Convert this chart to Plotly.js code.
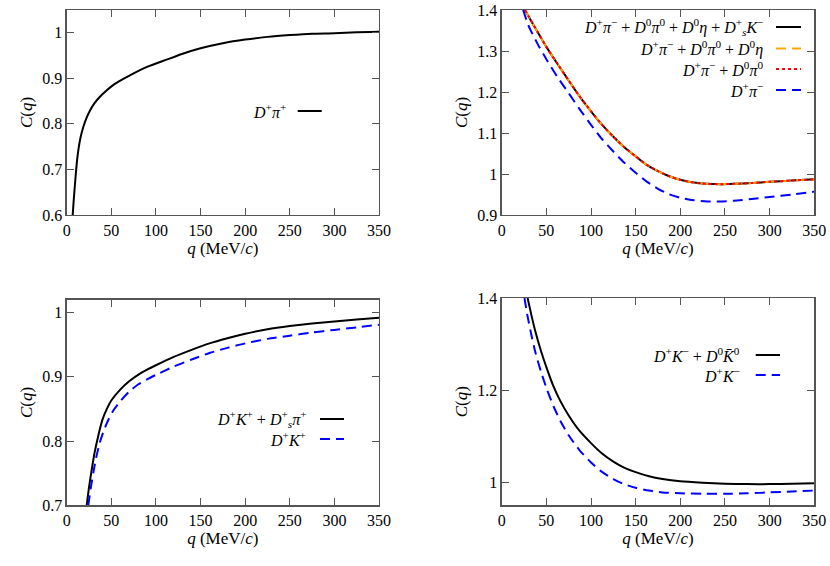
<!DOCTYPE html>
<html><head><meta charset="utf-8">
<script src="https://cdn.plot.ly/plotly-3.0.1.min.js"></script>
<style>html,body{margin:0;padding:0;background:#fff}#plot{width:830px;height:566px}</style>
</head><body><div id="plot"></div>
<script>
// Panel 1: D+ pi+
const q1 = [6.7, 8, 9.3, 11, 13, 15.5, 18.6, 22, 26, 31, 37, 44, 52, 62, 75, 90, 112, 130, 150, 175, 200, 225, 250, 275, 300, 325, 350];
const c1 = [0.600, 0.636, 0.668, 0.708, 0.742, 0.770, 0.793, 0.812, 0.829, 0.845, 0.859, 0.872, 0.885, 0.897, 0.911, 0.925, 0.941, 0.954, 0.966, 0.977, 0.985, 0.991, 0.995, 0.998, 0.999, 1.001, 1.002];

// Panel 2: D+ pi- coupled channels
const q2 = [26, 30, 40, 50, 62, 75, 87, 100, 112, 125, 137, 150, 162, 175, 187, 200, 215, 230, 245, 260, 280, 300, 325, 350];
const c2full = [1.400, 1.385, 1.347, 1.310, 1.270, 1.228, 1.190, 1.153, 1.121, 1.091, 1.066, 1.043, 1.023, 1.007, 0.995, 0.986, 0.979, 0.976, 0.975, 0.976, 0.978, 0.981, 0.984, 0.987];
const c2eta  = [1.400, 1.385, 1.347, 1.310, 1.270, 1.228, 1.190, 1.153, 1.121, 1.091, 1.066, 1.043, 1.023, 1.007, 0.995, 0.986, 0.979, 0.976, 0.975, 0.976, 0.978, 0.981, 0.984, 0.987];
const c2pi0  = [1.400, 1.385, 1.347, 1.310, 1.270, 1.228, 1.190, 1.153, 1.121, 1.091, 1.066, 1.043, 1.023, 1.007, 0.995, 0.986, 0.979, 0.976, 0.975, 0.976, 0.978, 0.981, 0.984, 0.987];
const q2b = [24, 30, 40, 50, 62, 75, 87, 100, 112, 125, 137, 150, 162, 175, 187, 200, 215, 230, 245, 260, 280, 300, 325, 350];
const c2single = [1.400, 1.362, 1.318, 1.280, 1.238, 1.197, 1.159, 1.120, 1.086, 1.055, 1.028, 1.003, 0.982, 0.964, 0.951, 0.942, 0.936, 0.933, 0.933, 0.935, 0.939, 0.944, 0.950, 0.957];

// Panel 3: D+ K+
const q3a = [22.4, 25, 28, 31, 35, 40, 45, 50, 60, 70, 80, 90, 100, 120, 140, 160, 180, 200, 225, 250, 275, 300, 325, 350];
const c3a = [0.700, 0.728, 0.755, 0.780, 0.806, 0.833, 0.850, 0.863, 0.880, 0.893, 0.903, 0.911, 0.918, 0.931, 0.942, 0.952, 0.960, 0.967, 0.974, 0.979, 0.983, 0.986, 0.989, 0.992];
const q3b = [24.2, 27, 30, 33, 37, 42, 47, 53, 60, 70, 80, 90, 100, 120, 140, 160, 180, 200, 225, 250, 275, 300, 325, 350];
const c3b = [0.700, 0.727, 0.752, 0.774, 0.797, 0.818, 0.834, 0.849, 0.862, 0.877, 0.888, 0.896, 0.903, 0.916, 0.927, 0.937, 0.945, 0.952, 0.959, 0.964, 0.969, 0.973, 0.977, 0.981];

// Panel 4: D+ K-
const q4a = [29, 33, 38, 44, 50, 58, 66, 75, 87, 100, 112, 125, 137, 150, 165, 180, 200, 225, 250, 275, 300, 325, 350];
const c4a = [1.400, 1.365, 1.325, 1.285, 1.250, 1.208, 1.175, 1.145, 1.112, 1.085, 1.063, 1.045, 1.032, 1.022, 1.013, 1.007, 1.002, 0.999, 0.997, 0.996, 0.996, 0.997, 0.998];
const q4b = [25.5, 29, 33, 38, 44, 50, 58, 66, 75, 87, 100, 112, 125, 137, 150, 165, 180, 200, 225, 250, 275, 300, 325, 350];
const c4b = [1.400, 1.360, 1.322, 1.280, 1.240, 1.205, 1.165, 1.132, 1.102, 1.070, 1.043, 1.023, 1.007, 0.996, 0.988, 0.982, 0.978, 0.976, 0.975, 0.975, 0.976, 0.978, 0.980, 0.982];

const xTicks = [0, 50, 100, 150, 200, 250, 300, 350];

const W = 830, H = 566;
const px = x => x / W, py = y => 1 - y / H;
const dashB = '10px,6px';
const FAM = 'Liberation Serif, Times New Roman, DejaVu Serif, serif';

function ln(color, dash) { return {color: color, width: 2, dash: dash || 'solid', shape: 'spline', smoothing: 0.6}; }

const traces = [
  {x: q1, y: c1, xaxis: 'x', yaxis: 'y', mode: 'lines', line: ln('#000')},
  {x: q2, y: c2full, xaxis: 'x2', yaxis: 'y2', mode: 'lines', line: ln('#000')},
  {x: q2, y: c2eta, xaxis: 'x2', yaxis: 'y2', mode: 'lines', line: ln('#FFA500', dashB)},
  {x: q2, y: c2pi0, xaxis: 'x2', yaxis: 'y2', mode: 'lines', line: ln('#FF0000', 'dot')},
  {x: q2b, y: c2single, xaxis: 'x2', yaxis: 'y2', mode: 'lines', line: ln('#0000FF', dashB)},
  {x: q3a, y: c3a, xaxis: 'x3', yaxis: 'y3', mode: 'lines', line: ln('#000')},
  {x: q3b, y: c3b, xaxis: 'x3', yaxis: 'y3', mode: 'lines', line: ln('#0000FF', dashB)},
  {x: q4a, y: c4a, xaxis: 'x4', yaxis: 'y4', mode: 'lines', line: ln('#000')},
  {x: q4b, y: c4b, xaxis: 'x4', yaxis: 'y4', mode: 'lines', line: ln('#0000FF', dashB)}
];

const tickFont = {family: FAM, size: 16, color: '#000'};
const titleFont = {family: FAM, size: 17, color: '#000'};
function xa(domain, anchor) {
  return {domain: domain, anchor: anchor, range: [0, 350], tickvals: xTicks, ticks: 'inside', ticklen: 7,
    tickcolor: '#555', showline: true, linecolor: '#555', linewidth: 1.3, mirror: 'ticks', showgrid: false, zeroline: false,
    tickfont: tickFont, title: {text: '<i>q</i> (MeV/<i>c</i>)', font: titleFont, standoff: 3}};
}
function ya(domain, anchor, range, tickvals) {
  return {domain: domain, anchor: anchor, range: range, tickvals: tickvals, ticks: 'inside', ticklen: 7,
    tickcolor: '#555', showline: true, linecolor: '#555', linewidth: 1.3, mirror: 'ticks', showgrid: false, zeroline: false,
    tickfont: tickFont, title: {text: '<i>C</i>(<i>q</i>)', font: titleFont, standoff: 5}};
}

const xL = [px(66.7), px(379)], xR = [px(501.7), px(814.3)];
const yT = [py(215), py(10)], yB = [py(505.3), py(299.7)], yB4 = [py(505.3), py(298)];

const legFont = {family: FAM, size: 16, color: '#000'};
function ann(x, y, text) {
  return {xref: 'paper', yref: 'paper', x: px(x), y: py(y), xanchor: 'right', yanchor: 'middle', showarrow: false, text: text, font: legFont};
}
function sample(x0, x1, y, color, dash) {
  return {type: 'line', xref: 'paper', yref: 'paper', x0: px(x0), x1: px(x1), y0: py(y), y1: py(y), line: {color: color, width: 2, dash: dash || 'solid'}};
}

const D = '<i>D</i>';
const annotations = [
  ann(288, 111, D + '<sup>+</sup><i>π</i><sup>+</sup>'),
  ann(765, 27, D + '<sup>+</sup><i>π</i><sup>−</sup> + ' + D + '<sup>0</sup><i>π</i><sup>0</sup> + ' + D + '<sup>0</sup><i>η</i> + ' + D + '<sup>+</sup><sub><i>s</i></sub><i>K</i><sup>−</sup>'),
  ann(765, 48.5, D + '<sup>+</sup><i>π</i><sup>−</sup> + ' + D + '<sup>0</sup><i>π</i><sup>0</sup> + ' + D + '<sup>0</sup><i>η</i>'),
  ann(765, 69, D + '<sup>+</sup><i>π</i><sup>−</sup> + ' + D + '<sup>0</sup><i>π</i><sup>0</sup>'),
  ann(765, 90, D + '<sup>+</sup><i>π</i><sup>−</sup>'),
  ann(308, 419, D + '<sup>+</sup><i>K</i><sup>+</sup> + ' + D + '<sup>+</sup><sub><i>s</i></sub><i>π</i><sup>+</sup>'),
  ann(308, 439, D + '<sup>+</sup><i>K</i><sup>+</sup>'),
  ann(742, 355, D + '<sup>+</sup><i>K</i><sup>−</sup> + ' + D + '<sup>0</sup><i>K̄</i><sup>0</sup>'),
  ann(742, 375, D + '<sup>+</sup><i>K</i><sup>−</sup>')
];
const shapes = [
  sample(297.7, 321.7, 111, '#000'),
  sample(776, 801, 27, '#000'),
  sample(776, 801, 48.5, '#FFA500', dashB),
  sample(776, 801, 69, '#FF0000', 'dot'),
  sample(776, 801, 90, '#0000FF', dashB),
  sample(320, 344, 419, '#000'),
  sample(320, 344, 439, '#0000FF', dashB),
  sample(755.7, 780, 355, '#000'),
  sample(755.7, 780, 375, '#0000FF', dashB)
];

const layout = {
  width: W, height: H, margin: {l: 0, r: 0, t: 0, b: 0},
  paper_bgcolor: '#fff', plot_bgcolor: '#fff', showlegend: false,
  xaxis: xa(xL, 'y'), yaxis: ya(yT, 'x', [0.6, 1.05], [0.6, 0.7, 0.8, 0.9, 1]),
  xaxis2: xa(xR, 'y2'), yaxis2: ya(yT, 'x2', [0.9, 1.4], [0.9, 1, 1.1, 1.2, 1.3, 1.4]),
  xaxis3: xa(xL, 'y3'), yaxis3: ya(yB, 'x3', [0.7, 1.02], [0.7, 0.8, 0.9, 1]),
  xaxis4: xa(xR, 'y4'), yaxis4: ya(yB4, 'x4', [0.95, 1.4], [1, 1.2, 1.4]),
  annotations: annotations, shapes: shapes
};
Plotly.newPlot('plot', traces, layout, {staticPlot: true, displayModeBar: false});
</script></body></html>
